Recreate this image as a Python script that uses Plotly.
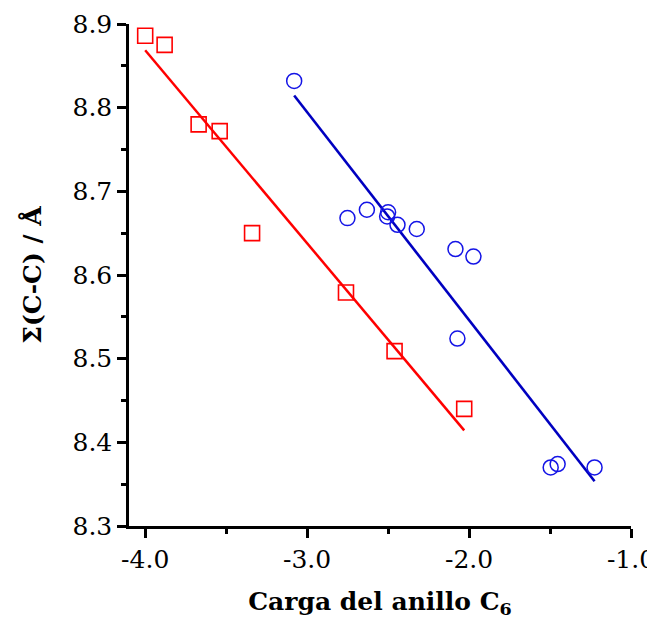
import numpy as np
import plotly.graph_objects as go

# Red series (squares)
red_x = [-4.00, -3.88, -3.67, -3.54, -3.34, -2.76, -2.46, -2.03]
red_y = [8.886, 8.875, 8.780, 8.772, 8.650, 8.579, 8.509, 8.440]

# Blue series (circles)
blue_x = [-3.08, -2.751, -2.631, -2.500, -2.506, -2.442, -2.323, -2.084, -1.973, -2.072, -1.496, -1.453, -1.225]
blue_y = [8.832, 8.668, 8.678, 8.675, 8.670, 8.660, 8.655, 8.631, 8.622, 8.524, 8.370, 8.374, 8.370]

x_ticks = [-4.0, -3.0, -2.0, -1.0]
y_ticks = [8.3, 8.4, 8.5, 8.6, 8.7, 8.8, 8.9]


def fit_line(xs, ys):
    m, b = np.polyfit(xs, ys, 1)
    xx = np.array([min(xs), max(xs)])
    return xx, m * xx + b


rfx, rfy = fit_line(red_x, red_y)
bfx, bfy = fit_line(blue_x, blue_y)

fig = go.Figure()
fig.add_trace(go.Scatter(x=rfx, y=rfy, mode="lines",
                         line=dict(color="#ff0000", width=2.5), showlegend=False))
fig.add_trace(go.Scatter(x=bfx, y=bfy, mode="lines",
                         line=dict(color="#0000c0", width=2.6), showlegend=False))
fig.add_trace(go.Scatter(x=red_x, y=red_y, mode="markers",
                         marker=dict(symbol="square-open", size=15, color="#ff0000",
                                     line=dict(width=1.6, color="#ff0000")),
                         showlegend=False))
fig.add_trace(go.Scatter(x=blue_x, y=blue_y, mode="markers",
                         marker=dict(symbol="circle-open", size=15, color="#1414e6",
                                     line=dict(width=1.5, color="#1414e6")),
                         showlegend=False))

tickfont = dict(family="DejaVu Serif", size=25, color="black")
titlefont = dict(family="DejaVu Serif", size=25, color="black")

fig.update_layout(
    width=655, height=623,
    margin=dict(l=121, r=32, t=16, b=105),
    plot_bgcolor="white", paper_bgcolor="white",
    xaxis=dict(
        range=[-4.1, -1.0], tickvals=x_ticks, ticktext=[f"{v:.1f}" for v in x_ticks],
        automargin=False,
        showgrid=False, zeroline=False, showline=True, linecolor="black", linewidth=2.5,
        ticks="outside", ticklen=9, tickwidth=2.5, tickcolor="black", tickfont=tickfont,
        minor=dict(dtick=0.5, ticks="outside", ticklen=5, tickwidth=2.5, tickcolor="black"),
        title=dict(text="<b>Carga del anillo C<sub>6</sub></b>", font=titlefont, standoff=20),
    ),
    yaxis=dict(
        range=[8.3, 8.9], tickvals=y_ticks, ticktext=[f"{v:.1f}" for v in y_ticks],
        automargin=False,
        showgrid=False, zeroline=False, showline=True, linecolor="black", linewidth=2.5,
        ticks="outside", ticklen=9, tickwidth=2.5, tickcolor="black", tickfont=tickfont,
        minor=dict(dtick=0.05, ticks="outside", ticklen=5, tickwidth=2.5, tickcolor="black"),
        title=dict(text="<b>Σ(C-C) / Å</b>", font=titlefont, standoff=24),
    ),
)

fig.write_html("out.html")
